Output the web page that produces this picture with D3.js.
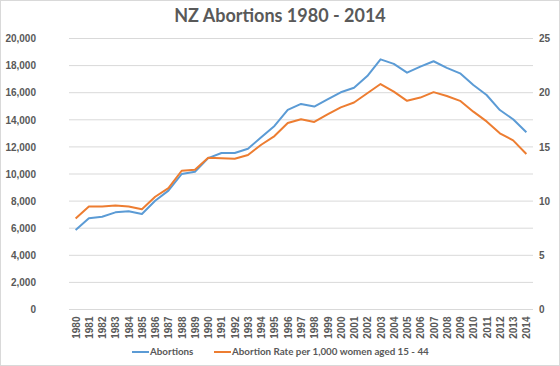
<!DOCTYPE html>
<html><head><meta charset="utf-8">
<script src="https://cdn.jsdelivr.net/npm/d3@7"></script>
<style>
html,body{margin:0;padding:0;background:#fff;}
svg{display:block;font-family:Lato,"Open Sans",sans-serif;}
</style></head>
<body><svg id="c" width="560" height="366"></svg>
<script>
const years = ["1980","1981","1982","1983","1984","1985","1986","1987","1988","1989","1990","1991","1992","1993","1994","1995","1996","1997","1998","1999","2000","2001","2002","2003","2004","2005","2006","2007","2008","2009","2010","2011","2012","2013","2014"];
const abortions = [5870,6730,6850,7170,7250,7050,8030,8770,10000,10170,11170,11550,11550,11860,12720,13550,14730,15170,14980,15510,16030,16370,17230,18460,18130,17480,17920,18320,17830,17430,16570,15830,14720,14040,13080];
const rate = [8.4,9.5,9.5,9.6,9.5,9.25,10.4,11.2,12.8,12.9,14.0,13.95,13.9,14.25,15.2,16.0,17.2,17.55,17.3,18.0,18.65,19.1,19.95,20.8,20.1,19.25,19.55,20.05,19.7,19.25,18.25,17.35,16.25,15.6,14.35];
const leftTicks = [0,2000,4000,6000,8000,10000,12000,14000,16000,18000,20000];
const rightTicks = [0,5,10,15,20,25];
const seriesNames = ["Abortions","Abortion Rate per 1,000 women aged 15 - 44"];
const colors = ["#5B9BD5","#ED7D31"];

const svg = d3.select("#c");
svg.append("rect").attr("x",0.5).attr("y",0.5).attr("width",559).attr("height",365)
  .attr("fill","#fff").attr("stroke","#d9d9d9");

const L=69, R=533, T=38.5, B=309.5;
const x = d3.scalePoint().domain(years).range([L,R]).padding(0.5);
const yL = d3.scaleLinear().domain([0,20000]).range([B,T]);
const yR = d3.scaleLinear().domain([0,25]).range([B,T]);

// gridlines
svg.append("g").selectAll("line").data(leftTicks).join("line")
  .attr("x1",L).attr("x2",R).attr("y1",d=>yL(d)).attr("y2",d=>yL(d))
  .attr("stroke","#d9d9d9").attr("stroke-width",1);

// left axis
const gL = svg.append("g").attr("transform",`translate(36,0)`)
  .call(d3.axisLeft(yL).tickValues(leftTicks).tickSize(0).tickPadding(0).tickFormat(d3.format(",")));
gL.select(".domain").remove();
gL.selectAll("text").attr("fill","#595959").style("font-size","10px").style("font-weight","bold");

// right axis
const gR = svg.append("g").attr("transform",`translate(539,0)`)
  .call(d3.axisRight(yR).tickValues(rightTicks).tickSize(0).tickPadding(0));
gR.select(".domain").remove();
gR.selectAll("text").attr("fill","#595959").style("font-size","10px").style("font-weight","bold");

// x axis
const gX = svg.append("g").attr("transform",`translate(0,${B})`)
  .call(d3.axisBottom(x).tickSize(0).tickPadding(0));
gX.select(".domain").remove();
gX.selectAll("text").attr("fill","#595959").style("font-size","10px").style("font-weight","bold")
  .attr("text-anchor","end").attr("transform","translate(0,7) rotate(-90)").attr("dy","0.35em").attr("y",0).attr("x",0);

// lines
const lineL = d3.line().x((d,i)=>x(years[i])).y(d=>yL(d));
const lineR = d3.line().x((d,i)=>x(years[i])).y(d=>yR(d));
svg.append("path").datum(abortions).attr("d",lineL).attr("fill","none").attr("stroke",colors[0]).attr("stroke-width",2).attr("stroke-linejoin","round");
svg.append("path").datum(rate).attr("d",lineR).attr("fill","none").attr("stroke",colors[1]).attr("stroke-width",2).attr("stroke-linejoin","round");

// title
svg.append("text").attr("x",280).attr("y",22).attr("text-anchor","middle")
  .attr("fill","#595959").style("font-size","18px").style("font-weight","bold").text("NZ Abortions 1980 - 2014");

// legend
const legX = [132,214];
seriesNames.forEach((n,i)=>{
  const g = svg.append("g").attr("transform",`translate(${legX[i]},352)`);
  g.append("line").attr("x1",0).attr("x2",17).attr("stroke",colors[i]).attr("stroke-width",2);
  g.append("text").attr("x",18).attr("y",0).attr("dy","0.35em").attr("fill","#595959")
    .style("font-size","9.8px").style("font-weight","bold").text(n);
});
</script></body></html>
